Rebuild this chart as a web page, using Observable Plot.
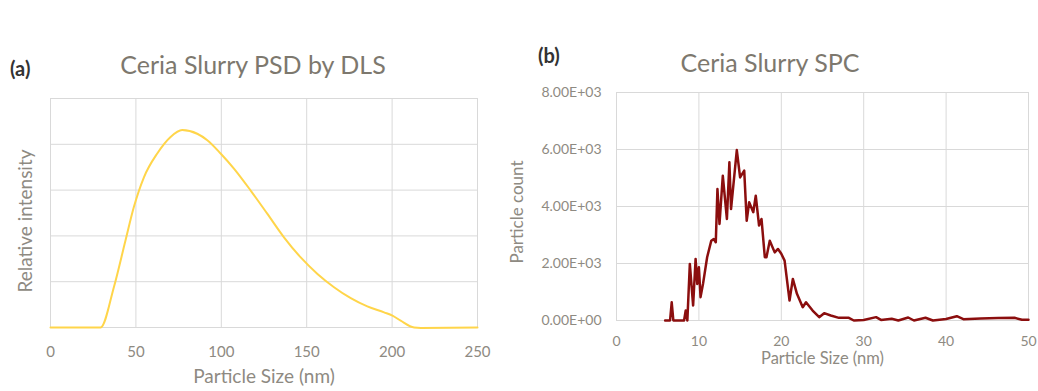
<!DOCTYPE html>
<html>
<head>
<meta charset="utf-8">
<script src="https://cdn.jsdelivr.net/npm/d3@7"></script>
<script src="https://cdn.jsdelivr.net/npm/@observablehq/plot@0.6"></script>
<style>
  html, body { margin: 0; padding: 0; background: #fff; }
  #page { position: relative; width: 1038px; height: 391px; overflow: hidden; font-family: Lato, "Open Sans", sans-serif; }
  .abs { position: absolute; }
  .ttl { position: absolute; transform: translate(-50%, -50%); line-height: 1; white-space: nowrap; color: #7d786e; font-size: 25px; }
  .tag { position: absolute; transform: translate(0, -50%); line-height: 1; color: #333; font-size: 20px; font-weight: bold; }
</style>
</head>
<body>
<div id="page">
  <div id="pa" class="abs" style="left:0;top:0"></div>
  <div id="pb" class="abs" style="left:500px;top:0"></div>
  <div class="tag" style="left:10px;top:68px">(a)</div>
  <div class="ttl" style="left:253px;top:64px">Ceria Slurry PSD by DLS</div>
  <div class="tag" style="left:538px;top:55px">(b)</div>
  <div class="ttl" style="left:770px;top:62px">Ceria Slurry SPC</div>
</div>
<script>
// Panel (a): DLS particle size distribution
const dlsSize = [0, 29.3, 37.1, 43.9, 48.8, 54.7, 62.5, 70.3, 77.1, 85.9, 91.8, 99.6, 107.4, 117.2, 127, 136.7, 146.5, 156.3, 166, 175.8, 185.5, 195.3, 200.2, 205, 212.9, 216.8, 250];
const dlsIntensity = [0, 0, 0.88, 1.9, 2.63, 3.28, 3.8, 4.16, 4.31, 4.23, 4.09, 3.8, 3.47, 2.99, 2.48, 1.97, 1.53, 1.17, 0.88, 0.64, 0.46, 0.33, 0.26, 0.15, 0, -0.01, 0];
const dlsXTicks = [0, 50, 100, 150, 200, 250];
const dlsYTicks = [0, 1, 2, 3, 4, 5];

// Panel (b): SPC particle count
const spcSize = [5.9, 6.5, 6.7, 6.9, 8.2, 8.4, 8.6, 8.9, 9.3, 9.6, 9.8, 10.0, 10.2, 10.5, 11.0, 11.5, 11.8, 12.05, 12.25, 12.5, 12.9, 13.4, 13.7, 13.9, 14.6, 15.0, 15.5, 15.8, 16.1, 16.6, 16.9, 17.3, 17.6, 18.0, 18.2, 18.6, 19.2, 19.6, 20.0, 20.4, 21.0, 21.4, 21.9, 22.6, 23.0, 23.8, 24.6, 25.2, 26.0, 27.0, 28.2, 28.8, 30.0, 31.5, 32.1, 33.4, 34.2, 35.4, 36.1, 37.5, 38.4, 40.0, 41.3, 42.1, 44.2, 46.3, 48.3, 49.2, 50];
const spcCount = [0, 0, 640, 0, 0, 350, 0, 1985, 525, 2160, 1285, 1870, 820, 1285, 2220, 2800, 2860, 2745, 4610, 3390, 5080, 3560, 5550, 3910, 5980, 5020, 5260, 3500, 4150, 3800, 4380, 3330, 3560, 2220, 2220, 2800, 2390, 2510, 2340, 2100, 700, 1460, 935, 467, 642, 350, 117, 257, 175, 93, 95, 0, 20, 118, 20, 60, 0, 105, 0, 95, 0, 50, 150, 45, 70, 90, 95, 25, 25];
const spcXTicks = [0, 10, 20, 30, 40, 50];
const spcYTicks = [0, 2000, 4000, 6000, 8000];
const spcYLabels = ["0.00E+00", "2.00E+03", "4.00E+03", "6.00E+03", "8.00E+03"];

const gridColor = "#d9d9d9";
const tickColor = "#8e8a82";
const font = "Lato, 'Open Sans', sans-serif";

const dls = dlsSize.map((s, i) => ({size: s, v: dlsIntensity[i]}));
const spc = spcSize.map((s, i) => ({size: s, v: spcCount[i]}));

const plotA = Plot.plot({
  width: 500, height: 391,
  marginLeft: 50, marginRight: 23, marginTop: 98, marginBottom: 64,
  style: {fontFamily: font, background: "transparent", overflow: "visible"},
  x: {domain: [0, 250], axis: null},
  y: {domain: [0, 5], axis: null},
  marks: [
    Plot.gridX(dlsXTicks, {stroke: gridColor, strokeOpacity: 1}),
    Plot.gridY(dlsYTicks, {stroke: gridColor, strokeOpacity: 1}),
    Plot.axisX(dlsXTicks, {tickSize: 0, tickPadding: 19, fontSize: 15, fill: tickColor, label: null}),
    Plot.line(dls, {x: "size", y: "v", stroke: "#FFD54A", strokeWidth: 2, curve: "monotone-x"}),
    Plot.text(["Particle Size (nm)"], {frameAnchor: "bottom", textAnchor: "middle", dy: 55, fontSize: 19, fill: tickColor, text: d => d}),
    Plot.text(["Relative intensity"], {frameAnchor: "left", textAnchor: "middle", dx: -25, dy: 8, rotate: -90, fontSize: 19, fill: tickColor, text: d => d})
  ]
});
document.getElementById("pa").appendChild(plotA);

const plotB = Plot.plot({
  width: 538, height: 391,
  marginLeft: 116, marginRight: 10, marginTop: 92, marginBottom: 71,
  style: {fontFamily: font, background: "transparent", overflow: "visible"},
  x: {domain: [0, 50], axis: null},
  y: {domain: [0, 8000], axis: null},
  marks: [
    Plot.gridX(spcXTicks, {stroke: gridColor, strokeOpacity: 1}),
    Plot.gridY(spcYTicks, {stroke: gridColor, strokeOpacity: 1}),
    Plot.axisX(spcXTicks, {tickSize: 0, tickPadding: 16, fontSize: 14, fill: tickColor, label: null}),
    Plot.axisY(spcYTicks, {tickSize: 0, tickPadding: 15, fontSize: 14, fill: tickColor, label: null,
      tickFormat: d => spcYLabels[spcYTicks.indexOf(d)]}),
    Plot.line(spc, {x: "size", y: "v", stroke: "#8B0E0E", strokeWidth: 2.5}),
    Plot.text(["Particle Size (nm)"], {frameAnchor: "bottom", textAnchor: "middle", dy: 43, fontSize: 16.5, fill: tickColor, text: d => d}),
    Plot.text(["Particle count"], {frameAnchor: "left", textAnchor: "middle", dx: -99, dy: 5.5, rotate: -90, fontSize: 17, fill: tickColor, text: d => d})
  ]
});
document.getElementById("pb").appendChild(plotB);
</script>
</body>
</html>
